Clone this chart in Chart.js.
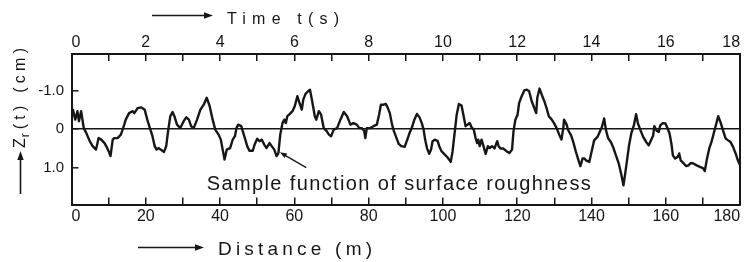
<!DOCTYPE html>
<html><head><meta charset="utf-8">
<script src="https://cdn.jsdelivr.net/npm/chart.js@4.4.1/dist/chart.umd.min.js"></script>
<style>html,body{margin:0;padding:0;background:#fff}canvas{display:block}</style>
</head><body>
<canvas id="c" width="750" height="262"></canvas>
<script>
// ---- data (distance in m, roughness Zr in cm; positive = downward) ----
const distance = [
  0,0.4,1.0,1.6,2.0,2.6,3.3,4.0,4.9,5.7,
  6.6,7.3,8.0,8.9,9.6,10.2,10.5,11.1,11.5,12.4,
  13.3,14.2,14.6,15.5,16.4,16.9,17.8,18.8,19.7,20.4,
  21.1,21.8,22.4,22.9,23.5,24.0,24.9,25.5,26.0,26.6,
  27.2,27.7,28.4,29.3,30.2,30.9,31.6,32.2,32.9,33.8,
  34.7,35.6,36.4,37.2,38.0,38.7,39.6,40.2,40.7,41.2,
  41.8,42.7,43.4,44.0,44.4,44.9,45.7,46.1,46.8,47.3,
  47.9,48.8,49.3,50.0,50.6,51.2,51.9,52.5,53.3,53.9,
  54.6,55.2,55.7,56.2,56.8,57.3,57.7,58.1,58.8,59.5,
  60.1,60.8,61.4,62.0,62.4,63.0,63.7,64.2,64.8,65.5,
  65.9,66.6,67.2,67.9,68.7,69.3,69.9,70.6,71.5,72.4,
  73.3,74.2,75.1,75.9,76.8,77.5,78.2,78.8,79.1,79.5,
  80.4,81.3,82.2,82.8,83.3,84.0,84.6,85.1,85.7,86.3,
  86.8,87.5,88.1,88.8,89.7,90.4,91.0,91.6,92.3,93.0,
  93.7,94.3,94.8,95.2,95.7,96.3,96.8,97.2,97.8,98.6,
  99.0,99.6,100.3,101.2,102.1,102.6,103.2,103.7,104.3,105.0,
  105.5,106.1,106.6,107.2,107.7,108.3,108.8,109.2,109.5,109.9,
  110.4,110.8,111.5,112.1,112.6,113.2,113.9,114.6,115.0,115.5,
  116.2,117.1,117.9,118.6,119.0,119.5,120.1,120.5,121.2,121.9,
  122.6,123.2,123.9,124.6,125.1,125.4,126.0,126.6,127.3,127.9,
  128.5,129.3,129.9,130.6,131.3,131.9,132.4,132.6,133.3,133.7,
  134.5,135.2,135.8,136.5,137.0,137.6,138.1,138.5,139.4,140.0,
  140.7,141.6,142.2,142.8,143.4,143.9,144.5,145.2,145.8,146.5,
  147.3,148.0,148.6,149.1,149.6,150.1,150.7,151.4,152.0,152.5,
  153.2,153.9,154.7,155.4,155.8,156.6,156.9,157.5,158.1,158.5,
  159.2,159.9,160.5,161.0,161.5,161.9,162.5,163.2,163.6,164.0,
  164.8,165.5,166.1,166.7,167.4,168.3,169.2,170.1,170.5,171.0,
  171.7,172.3,173.0,173.7,174.1,174.7,175.4,176.1,176.8,177.4,
  178.1,178.8,179.4,180.0
];
const roughness = [
  -0.45,-0.51,-0.25,-0.47,-0.21,-0.47,-0.03,0.10,0.31,0.44,
  0.53,0.23,0.27,0.36,0.49,0.62,0.70,0.27,0.23,0.23,
  0.14,-0.12,-0.25,-0.42,-0.47,-0.42,-0.55,-0.57,-0.51,-0.25,
  -0.03,0.18,0.44,0.53,0.49,0.53,0.59,0.44,0.05,-0.34,
  -0.45,-0.34,-0.12,-0.03,-0.21,-0.31,-0.25,-0.08,-0.03,-0.25,
  -0.51,-0.64,-0.82,-0.60,-0.25,0.01,0.14,0.27,0.53,0.79,
  0.53,0.49,0.27,0.18,-0.03,-0.12,-0.08,0.05,0.27,0.44,
  0.56,0.56,0.40,0.25,0.31,0.27,0.40,0.49,0.36,0.44,
  0.53,0.70,0.62,0.14,-0.16,-0.25,-0.16,-0.34,-0.40,-0.47,
  -0.60,-0.86,-0.68,-0.51,-0.77,-0.92,-0.99,-1.03,-0.73,-0.34,
  -0.25,-0.47,-0.38,-0.03,0.05,0.14,0.18,0.01,-0.03,-0.25,
  -0.45,-0.34,-0.12,-0.16,-0.12,-0.03,-0.03,0.05,0.23,-0.03,
  -0.03,-0.08,-0.12,-0.38,-0.64,-0.64,-0.66,-0.57,-0.42,-0.12,
  0.05,0.23,0.38,0.44,0.46,0.27,0.10,-0.03,-0.25,-0.40,
  -0.31,-0.16,0.01,0.27,0.49,0.64,0.53,0.31,0.27,0.31,
  0.44,0.57,0.64,0.73,0.85,0.57,0.05,-0.38,-0.66,-0.62,
  -0.38,-0.08,-0.12,-0.16,-0.05,0.01,0.23,0.36,0.27,0.44,
  0.27,0.40,0.64,0.44,0.49,0.44,0.50,0.31,0.44,0.50,
  0.50,0.57,0.62,0.53,0.05,-0.25,-0.38,-0.68,-0.86,-1.01,
  -1.03,-0.99,-0.73,-0.55,-0.42,-0.82,-1.06,-0.90,-0.73,-0.55,
  -0.34,-0.25,-0.16,-0.03,0.14,0.27,-0.03,-0.25,-0.12,0.02,
  0.16,0.37,0.59,0.81,0.96,0.76,0.76,0.81,0.85,0.59,
  0.29,0.20,0.07,-0.06,-0.28,0.03,0.24,0.33,0.46,0.66,
  0.88,1.17,1.46,1.13,0.78,0.42,0.11,-0.10,-0.39,-0.15,
  0.03,0.20,0.33,0.42,0.33,0.16,-0.08,0.03,0.07,-0.10,
  -0.16,-0.15,-0.02,0.11,0.37,0.68,0.76,0.72,0.63,0.81,
  0.89,0.96,0.94,0.88,0.89,0.94,0.98,1.02,1.09,0.81,
  0.50,0.33,0.07,-0.19,-0.34,-0.19,0.03,0.24,0.29,0.33,
  0.46,0.63,0.81,0.94
];

// ---- axes / ticks ----
const distanceRange = [0, 180];
const timeRange = [0, 18];
const roughnessRange = [-1.96, 1.96];
const distanceTickValues = [0,20,40,60,80,100,120,140,160,180];
const distanceTickLabels = ['0','20','40','60','80','100','120','140','160','180'];
const timeTickValues = [0,2,4,6,8,10,12,14,16,18];
const timeTickLabels = ['0','2','4','6','8','10','12','14','16','18'];
const roughnessTickValues = [-1, 0, 1];
const roughnessTickLabels = ['-1.0', '0', '1.0'];

// ---- texts ----
const topTitle = 'Time t(s)';
const bottomTitle = 'Distance (m)';
const yTitleMain = 'Z', yTitleSub = 'r', yTitleRest = '(t) (cm)';
const annotationText = 'Sample function of surface roughness';
const annotationTextAt = {x: 36.4, y: 1.59};
const annotationArrowFrom = {x: 63.2, y: 1.0};
const annotationArrowTo = {x: 56.1, y: 0.6};

const INK = '#161616';
const FONT = 'Liberation Sans';

function arrow(ctx, x1, y1, x2, y2, len, half, lw) {
  const a = Math.atan2(y2 - y1, x2 - x1);
  ctx.save();
  ctx.strokeStyle = INK; ctx.fillStyle = INK; ctx.lineWidth = lw;
  ctx.beginPath();
  ctx.moveTo(x1, y1);
  ctx.lineTo(x2 - Math.cos(a) * len * 0.8, y2 - Math.sin(a) * len * 0.8);
  ctx.stroke();
  ctx.beginPath();
  ctx.moveTo(x2, y2);
  ctx.lineTo(x2 - Math.cos(a) * len - Math.sin(a) * half, y2 - Math.sin(a) * len + Math.cos(a) * half);
  ctx.lineTo(x2 - Math.cos(a) * len + Math.sin(a) * half, y2 - Math.sin(a) * len - Math.cos(a) * half);
  ctx.closePath();
  ctx.fill();
  ctx.restore();
}

function fitText(ctx, text, x, y, width, font) {
  ctx.font = font;
  ctx.letterSpacing = '0px';
  const w = ctx.measureText(text).width;
  const ls = text.length > 1 ? (width - w) / (text.length - 1) : 0;
  ctx.letterSpacing = ls.toFixed(2) + 'px';
  ctx.fillText(text, x, y);
  ctx.letterSpacing = '0px';
}

const decorations = {
  id: 'decorations',
  afterDraw(chart) {
    const ctx = chart.ctx;
    const sx = chart.scales.x, sy = chart.scales.y;
    ctx.save();
    ctx.fillStyle = INK;
    ctx.textAlign = 'left';
    ctx.textBaseline = 'alphabetic';

    // top title
    arrow(ctx, 152, 15.5, 213, 15.5, 9, 3.2, 1.6);
    fitText(ctx, topTitle, 227, 23.5, 112, '16px "' + FONT + '"');

    // bottom title
    arrow(ctx, 138, 247.5, 204, 247.5, 9, 3.2, 1.6);
    fitText(ctx, bottomTitle, 218, 255, 154, '19px "' + FONT + '"');

    // y title (rotated)
    arrow(ctx, 20.5, 194, 20.5, 151, 9, 3.2, 1.6);
    ctx.save();
    ctx.translate(25, 148);
    ctx.rotate(-Math.PI / 2);
    ctx.font = '16px "' + FONT + '"';
    ctx.fillText(yTitleMain, 0, 0);
    const zw = ctx.measureText(yTitleMain).width;
    ctx.font = '12px "' + FONT + '"';
    ctx.fillText(yTitleSub, zw + 1, 4);
    const rw = ctx.measureText(yTitleSub).width;
    const start = zw + rw + 5;
    fitText(ctx, yTitleRest, start, 0, 100 - start, '16px "' + FONT + '"');
    ctx.restore();

    // annotation
    const tx = sx.getPixelForValue(annotationTextAt.x), ty = sy.getPixelForValue(annotationTextAt.y);
    fitText(ctx, annotationText, tx, ty, 384, '20px "' + FONT + '"');
    arrow(ctx,
      sx.getPixelForValue(annotationArrowFrom.x), sy.getPixelForValue(annotationArrowFrom.y),
      sx.getPixelForValue(annotationArrowTo.x), sy.getPixelForValue(annotationArrowTo.y),
      7, 2.6, 1.3);
    ctx.restore();
  }
};

const tickFont = {family: FONT, size: 16};
const commonGrid = {drawOnChartArea: false, drawTicks: true, tickLength: -7, color: INK, lineWidth: 1.5};
const commonBorder = {display: true, color: INK, width: 2};

new Chart(document.getElementById('c'), {
  type: 'line',
  data: {
    datasets: [{
      data: distance.map((d, i) => ({x: d, y: roughness[i]})),
      borderColor: INK,
      borderWidth: 2.4,
      borderJoinStyle: 'round',
      pointRadius: 0,
      tension: 0,
      fill: false,
      xAxisID: 'x',
      yAxisID: 'y'
    }]
  },
  options: {
    responsive: false,
    animation: false,
    events: [],
    plugins: {legend: {display: false}, tooltip: {enabled: false}},
    layout: {padding: 0},
    scales: {
      x: {
        type: 'linear', position: 'bottom',
        min: distanceRange[0], max: distanceRange[1],
        grid: commonGrid, border: commonBorder,
        ticks: {
          stepSize: 10, autoSkip: false, maxRotation: 0, align: 'inner',
          padding: 9.9, color: INK, font: tickFont,
          callback: v => { const i = distanceTickValues.indexOf(v); return i >= 0 ? distanceTickLabels[i] : ''; }
        },
        afterFit: s => { s.height = 57.5; }
      },
      xTop: {
        type: 'linear', position: 'top',
        min: timeRange[0], max: timeRange[1],
        grid: commonGrid, border: commonBorder,
        ticks: {
          stepSize: 1, autoSkip: false, maxRotation: 0, align: 'inner',
          padding: 8.9, color: INK, font: tickFont,
          callback: v => { const i = timeTickValues.indexOf(v); return i >= 0 ? timeTickLabels[i] : ''; }
        },
        afterFit: s => { s.height = 54; }
      },
      y: {
        type: 'linear', position: 'left', reverse: true,
        min: roughnessRange[0], max: roughnessRange[1],
        afterBuildTicks: s => { s.ticks = roughnessTickValues.map(v => ({value: v})); },
        grid: {
          drawOnChartArea: true, drawTicks: true, tickLength: -7,
          color: c => (c.tick && c.tick.value === 0) ? INK : 'rgba(0,0,0,0)',
          lineWidth: 1.6, tickColor: INK, tickWidth: 1.5
        },
        border: commonBorder,
        ticks: {
          padding: 14.5, color: INK, font: {family: FONT, size: 15},
          callback: v => { const i = roughnessTickValues.indexOf(v); return i >= 0 ? roughnessTickLabels[i] : ''; }
        },
        afterFit: s => { s.width = 71.5; }
      },
      yRight: {
        type: 'linear', position: 'right',
        min: roughnessRange[0], max: roughnessRange[1],
        grid: {display: false},
        border: commonBorder,
        ticks: {display: false},
        afterFit: s => { s.width = 4.3; }
      }
    }
  },
  plugins: [decorations]
});
</script>
</body></html>
